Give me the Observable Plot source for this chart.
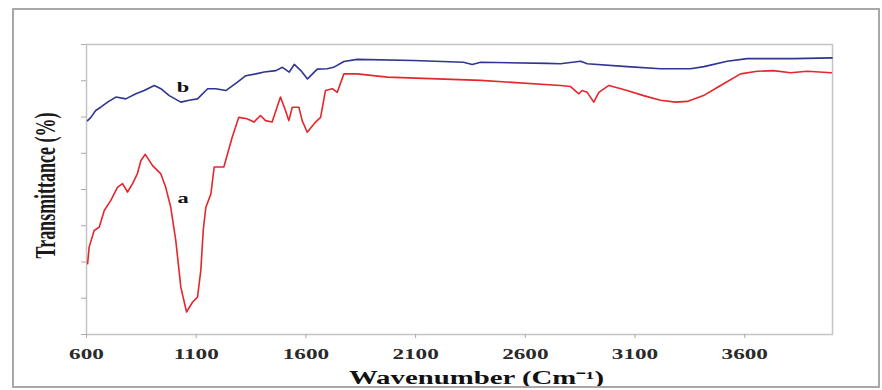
<!DOCTYPE html>
<html>
<head>
<meta charset="utf-8">
<script src="https://cdn.jsdelivr.net/npm/d3@7"></script>
<script src="https://cdn.jsdelivr.net/npm/@observablehq/plot@0.6"></script>
<style>
  html, body { margin: 0; padding: 0; background: #fff; }
  #wrap { position: relative; width: 882px; height: 390px; overflow: hidden; }
  #border { position: absolute; left: 12px; top: 8px; width: 864px; height: 376px;
            border: 2px solid #a8a8a8; pointer-events: none; }
</style>
</head>
<body>
<div id="wrap"><div id="border"></div></div>
<script>
// Curve a (red)
const wnA = [605, 612, 635, 658, 681, 711, 741, 764, 787, 810, 832, 848, 868, 901, 939, 961, 984, 1007, 1030, 1056, 1083, 1106, 1121, 1132, 1144, 1167, 1182, 1212, 1226, 1264, 1294, 1332, 1363, 1393, 1416, 1446, 1484, 1507, 1522, 1538, 1568, 1583, 1606, 1644, 1667, 1689, 1720, 1743, 1773, 1834, 1971, 2396, 2760, 2806, 2844, 2859, 2882, 2912, 2935, 2981, 3064, 3139, 3216, 3285, 3338, 3412, 3490, 3581, 3657, 3731, 3809, 3885, 3995];
const tA = [19.5, 24.1, 28.7, 29.6, 34.2, 37.0, 40.6, 41.6, 39.3, 41.6, 44.4, 48.0, 49.7, 46.6, 44.3, 40.6, 35.1, 25.9, 13.0, 6.2, 8.9, 10.3, 17.7, 28.7, 35.1, 38.8, 46.2, 46.2, 46.2, 54.4, 59.9, 59.5, 58.6, 60.4, 59.0, 58.6, 65.5, 61.8, 59.0, 62.7, 62.7, 59.0, 55.8, 58.6, 59.9, 67.3, 67.8, 66.8, 71.9, 71.9, 71.0, 70.1, 68.7, 68.4, 66.4, 67.3, 66.8, 64.1, 66.8, 68.7, 67.3, 65.9, 64.6, 64.1, 64.3, 65.9, 68.7, 71.9, 72.6, 72.8, 72.2, 72.6, 72.2];
// Curve b (blue)
const wnB = [605, 620, 642, 665, 696, 734, 779, 825, 863, 909, 939, 977, 1030, 1068, 1106, 1152, 1189, 1235, 1288, 1326, 1372, 1410, 1463, 1493, 1524, 1547, 1577, 1607, 1652, 1697, 1726, 1773, 1834, 2090, 2318, 2358, 2396, 2700, 2760, 2852, 2882, 3064, 3216, 3353, 3414, 3520, 3611, 3733, 3824, 3998];
const tB = [59.0, 59.9, 61.8, 62.7, 64.1, 65.5, 65.0, 66.4, 67.3, 68.7, 67.8, 65.9, 64.1, 64.6, 65.0, 67.8, 67.8, 67.3, 69.6, 71.4, 71.9, 72.4, 72.8, 73.7, 72.4, 74.5, 72.8, 70.5, 73.2, 73.3, 73.7, 75.3, 75.9, 75.6, 75.1, 74.5, 75.1, 74.8, 74.7, 75.4, 74.7, 73.9, 73.3, 73.3, 73.9, 75.4, 76.1, 76.1, 76.1, 76.3];
// Curve labels
const curveLabels = ["a", "b"];
const labelWn = [1040, 1040];
const labelT = [37.5, 68.1];
// Axes
const xTicks = [600, 1100, 1600, 2100, 2600, 3100, 3600];
const yTicks = [0, 10, 20, 30, 40, 50, 60, 70, 80];
const xTitle = "Wavenumber (Cm\u207B\u00B9)";
const yTitle = "Transmittance (%)";

const dataA = wnA.map((w, i) => ({w, t: tA[i]}));
const dataB = wnB.map((w, i) => ({w, t: tB[i]}));
const labelData = curveLabels.map((s, i) => ({s, w: labelWn[i], t: labelT[i]}));

const serif = "'Liberation Serif', 'Times New Roman', serif";

const chart = Plot.plot({
  width: 882,
  height: 390,
  marginLeft: 86,
  marginRight: 50,
  marginTop: 44,
  marginBottom: 56,
  style: {background: "transparent", fontFamily: serif},
  x: {domain: [600, 4000]},
  y: {domain: [0, 80]},
  marks: [
    Plot.frame({stroke: "#c4c4c4", strokeWidth: 1.5}),
    Plot.axisX({ticks: xTicks, tickSize: 4, tickPadding: 10, tickFormat: d => String(d),
                stroke: "#aaa", fill: "#2a2a2a", fontSize: 14.5, fontWeight: "bold", fontFamily: serif, label: null}),
    Plot.axisY({ticks: yTicks, tickSize: 5, tickFormat: () => "", stroke: "#aaa", label: null}),
    Plot.line(dataB, {x: "w", y: "t", stroke: "#2f3590", strokeWidth: 1.6}),
    Plot.line(dataA, {x: "w", y: "t", stroke: "#e5262c", strokeWidth: 1.6}),
    Plot.text(labelData, {x: "w", y: "t", text: "s", fontSize: 14, fontWeight: "bold", fill: "#111", fontFamily: serif}),
    Plot.text([xTitle], {text: d => d, frameAnchor: "bottom", dy: 44, dx: 17, textAnchor: "middle", lineAnchor: "middle",
                         fontSize: 18, fontWeight: "bold", fill: "#111", fontFamily: serif}),
    Plot.text([yTitle], {text: d => d, frameAnchor: "left", dx: -41, dy: -4, rotate: -90, textAnchor: "middle", lineAnchor: "middle",
                         fontSize: 18, fontWeight: "bold", fill: "#1a1a1a", fontFamily: serif})
  ]
});

const wrap = document.getElementById("wrap");
wrap.insertBefore(chart, wrap.firstChild);

// Horizontal stretch of text to match the reference's widened lettering
const sx = 1.6;
chart.querySelectorAll("text").forEach(t => {
  if (!t.textContent) return;
  const b = t.getBBox();
  const cx = b.x + b.width / 2, cy = b.y + b.height / 2;
  const old = t.getAttribute("transform") || "";
  const rotated = /rotate/.test(old);
  const sc = rotated ? `scale(1,${sx})` : `scale(${sx},1)`;
  t.setAttribute("transform", `${old} translate(${cx},${cy}) ${sc} translate(${-cx},${-cy})`);
});
</script>
</body>
</html>
